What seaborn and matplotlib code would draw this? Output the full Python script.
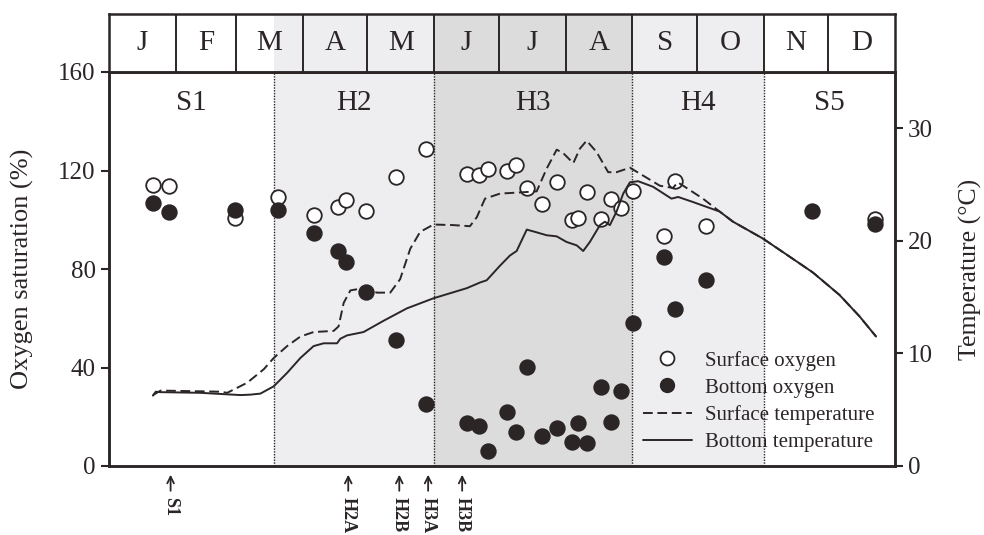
import matplotlib
matplotlib.use("Agg")
import matplotlib.pyplot as plt
from matplotlib.lines import Line2D
import seaborn as sns
import pandas as pd

# ---------------- data (x in day of year) ----------------
months = ["J", "F", "M", "A", "M", "J", "J", "A", "S", "O", "N", "D"]
month_edges = [0, 31, 59, 90, 120, 151, 181, 212, 243, 273, 304, 334, 365]

period_names = ["S1", "H2", "H3", "H4", "S5"]
period_edges = [0, 76.5, 151, 243, 304, 365]
period_colors = ["#ffffff", "#eeeef0", "#dcdcdd", "#eeeef0", "#ffffff"]

surf_o2_day = [20.5, 27.8, 58.4, 78.5, 95.0, 106.2, 110.2, 119.3, 133.2, 147.1,
               166.2, 172.0, 175.9, 185.0, 189.0, 194.0, 200.9, 207.9, 214.8, 217.9,
               221.8, 228.7, 232.9, 237.7, 243.4, 257.6, 262.7, 277.4, 355.8]
surf_o2 = [114.1, 113.7, 100.6, 109.4, 101.8, 105.3, 108.0, 103.7, 117.5, 128.7,
           118.5, 118.2, 120.5, 119.9, 122.2, 113.0, 106.4, 115.5, 99.9, 100.8,
           111.4, 100.2, 108.3, 104.9, 111.7, 93.4, 115.9, 97.5, 100.2]

bot_o2_day = [20.4, 27.8, 58.4, 78.5, 95.0, 106.2, 110.2, 119.3, 133.2, 147.1,
              166.2, 172.0, 176.2, 185.0, 189.0, 194.0, 200.9, 207.9, 214.8, 217.9,
              221.8, 228.7, 232.9, 237.7, 243.4, 257.6, 262.7, 277.4, 326.4, 355.8]
bot_o2 = [106.9, 103.0, 104.0, 104.0, 94.7, 87.4, 82.7, 70.5, 51.2, 25.1,
          17.6, 16.2, 6.2, 22.0, 13.7, 40.3, 12.2, 15.6, 9.9, 17.3,
          9.2, 32.0, 17.7, 30.6, 58.2, 84.7, 63.8, 75.5, 103.6, 98.3]

bot_t_day = [20.4, 21.7, 24.0, 42.5, 61.1, 65.7, 70.3, 76.5, 82.7, 88.9,
             95.0, 99.7, 105.9, 107.4, 110.5, 118.2, 127.5, 138.3, 150.7, 166.2,
             172.3, 175.4, 181.6, 186.2, 189.3, 194.0, 197.8, 203.2, 207.9, 212.5,
             217.2, 220.2, 223.3, 228.0, 230.3, 232.6, 235.7, 238.8, 241.9, 245.7,
             252.7, 261.2, 264.3, 271.2, 283.6, 289.8, 303.7, 314.5, 326.8, 339.2,
             348.5, 356.2]
bot_t = [6.25, 6.6, 6.56, 6.5, 6.3, 6.34, 6.43, 7.08, 8.27, 9.6,
         10.65, 10.9, 10.9, 11.3, 11.6, 11.9, 12.9, 14.0, 14.9, 15.8,
         16.3, 16.5, 17.8, 18.7, 19.1, 21.0, 20.8, 20.5, 20.4, 19.9,
         19.6, 19.1, 19.9, 21.4, 21.7, 21.4, 22.6, 24.2, 25.2, 25.3,
         24.8, 23.75, 23.9, 23.45, 22.6, 21.7, 20.2, 18.8, 17.2, 15.2,
         13.3, 11.5]

surf_t_day = [20.4, 24.0, 51.8, 54.9, 64.2, 71.9, 76.5, 82.7, 88.9, 95.0,
              104.3, 106.6, 109.0, 112.1, 118.2, 124.4, 130.6, 135.2, 139.9, 144.5,
              150.7, 159.9, 167.6, 170.8, 174.6, 181.6, 190.8, 198.6, 203.2, 207.9,
              210.9, 215.6, 218.7, 221.8, 226.4, 231.8, 235.7, 241.9, 248.0, 255.8,
              261.9, 264.1, 266.6, 275.8, 283.6, 289.8, 303.7, 314.5, 326.8, 339.2,
              348.5, 356.2]
surf_t = [6.3, 6.7, 6.6, 6.5, 7.4, 8.6, 9.6, 10.65, 11.5, 11.9,
          12.0, 12.4, 14.5, 15.6, 15.8, 15.4, 15.4, 16.6, 19.3, 20.8,
          21.45, 21.4, 21.3, 22.1, 23.75, 24.2, 24.3, 24.4, 26.4, 28.1,
          27.8, 26.9, 28.2, 28.9, 27.9, 26.1, 26.1, 26.5, 25.8, 24.9,
          24.7, 25.2, 24.9, 23.75, 22.6, 21.7, 20.2, 18.8, 17.2, 15.2,
          13.3, 11.5]

arrow_labels = ["S1", "H2A", "H2B", "H3A", "H3B"]
arrow_days = [28.6, 111.1, 134.8, 148.2, 164.0]

o2_ticks = [0, 40, 80, 120, 160]
t_ticks = [0, 10, 20, 30]

# ---------------- style ----------------
sns.set_style("ticks")
plt.rcParams["font.family"] = ["Liberation Serif", "DejaVu Serif"]
ink = "#2b2526"
plt.rcParams["text.color"] = ink
plt.rcParams["axes.edgecolor"] = ink
plt.rcParams["xtick.color"] = ink
plt.rcParams["ytick.color"] = ink
plt.rcParams["axes.labelcolor"] = ink

fig = plt.figure(figsize=(9.84, 5.35), dpi=100)
L, R, B, T = 109 / 984, 895 / 984, 1 - 466 / 535, 1 - 72 / 535
MT = 1 - 14 / 535
ax = fig.add_axes([L, B, R - L, T - B])
axm = fig.add_axes([L, T, R - L, MT - T])

# shading
for a in (ax, axm):
    for i in range(len(period_names)):
        a.axvspan(period_edges[i], period_edges[i + 1], color=period_colors[i], lw=0, zorder=0)
    a.set_xlim(0, 365)

# month bar
axm.set_ylim(0, 1)
for e in month_edges[1:-1]:
    axm.axvline(e, color=ink, lw=1.4)
for i, m in enumerate(months):
    axm.text((month_edges[i] + month_edges[i + 1]) / 2, 0.5, m, ha="center", va="center",
             fontsize=21)
axm.set_xticks([])
axm.set_yticks([])
for s in axm.spines.values():
    s.set_linewidth(1.8)

# dotted period boundaries
for e in period_edges[1:-1]:
    ax.axvline(e, color=ink, lw=1.0, ls=(0, (1, 1)), zorder=1)

# oxygen points
ds = pd.DataFrame({"day": surf_o2_day, "o2": surf_o2})
db = pd.DataFrame({"day": bot_o2_day, "o2": bot_o2})
sns.scatterplot(data=ds, x="day", y="o2", ax=ax, s=110, facecolor="white",
                edgecolor=ink, linewidth=1.3, zorder=3)
sns.scatterplot(data=db, x="day", y="o2", ax=ax, s=110, color=ink,
                edgecolor=ink, linewidth=1.3, zorder=4)
ax.set_ylim(0, 160)
ax.set_yticks(o2_ticks)
ax.set_xticks([])
ax.set_xlabel("")
ax.set_ylabel("Oxygen saturation (%)", fontsize=19)
ax.yaxis.set_label_coords(-0.096, 0.5)
ax.tick_params(axis="y", labelsize=18, length=6, width=1.5, direction="out")
for s in ax.spines.values():
    s.set_linewidth(1.8)

# temperature
ax2 = ax.twinx()
dts = pd.DataFrame({"day": surf_t_day, "t": surf_t})
dtb = pd.DataFrame({"day": bot_t_day, "t": bot_t})
sns.lineplot(data=dts, x="day", y="t", ax=ax2, color=ink, lw=1.4,
             linestyle=(0, (5, 2.4)), sort=False, estimator=None)
sns.lineplot(data=dtb, x="day", y="t", ax=ax2, color=ink, lw=1.4,
             sort=False, estimator=None)
ax2.set_ylim(0, 35)
ax2.set_xlim(0, 365)
ax2.set_yticks(t_ticks)
ax2.set_xticks([])
ax2.set_xlabel("")
ax2.set_ylabel("Temperature (°C)", fontsize=18.5)
ax2.yaxis.set_label_coords(1.081, 0.5)
ax2.tick_params(axis="y", labelsize=18, length=6, width=1.5, direction="out")
for s in ax2.spines.values():
    s.set_linewidth(1.8)

# period labels
for i, p in enumerate(period_names):
    ax.text((period_edges[i] + period_edges[i + 1]) / 2, 0.921, p, ha="center", va="center",
            fontsize=21, transform=ax.get_xaxis_transform())

# arrows below axis
tr = ax.get_xaxis_transform()
for lab, d in zip(arrow_labels, arrow_days):
    ax.annotate("", xy=(d, -0.015), xytext=(d, -0.07), xycoords=tr, textcoords=tr,
                arrowprops=dict(arrowstyle="->", lw=1.3, color=ink, mutation_scale=12),
                annotation_clip=False)
    ax.text(d, -0.078, lab, rotation=270, ha="center", va="top", fontsize=13,
            fontweight="bold", transform=tr, clip_on=False)

# legend
handles = [
    Line2D([], [], ls="none", marker="o", markersize=10, markerfacecolor="white",
           markeredgecolor=ink, markeredgewidth=1.3),
    Line2D([], [], ls="none", marker="o", markersize=10, markerfacecolor=ink,
           markeredgecolor=ink),
    Line2D([], [], color=ink, lw=1.4, ls=(0, (5, 2.4))),
    Line2D([], [], color=ink, lw=1.4),
]
labels = ["Surface oxygen", "Bottom oxygen", "Surface temperature", "Bottom temperature"]
ax2.legend(handles, labels, loc="upper left", bbox_to_anchor=(624 / 984, 1 - 332 / 535),
           bbox_transform=fig.transFigure, frameon=False, fontsize=15,
           handlelength=2.35, handletextpad=0.65, labelspacing=0.36, borderpad=0.4)

fig.savefig("out.png", dpi=100)
